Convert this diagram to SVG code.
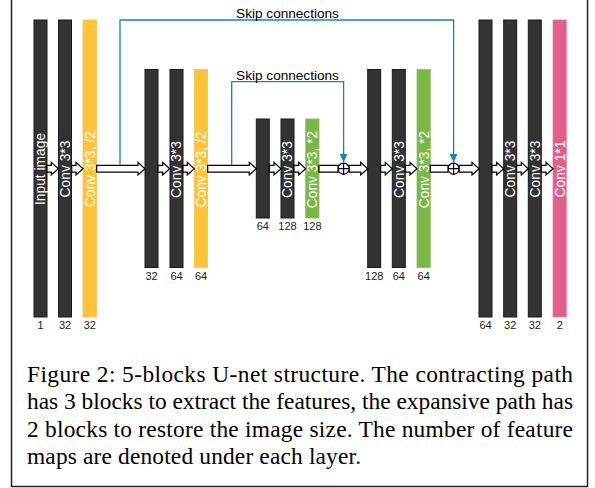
<svg xmlns="http://www.w3.org/2000/svg" width="595" height="488" viewBox="0 0 595 488">
<defs>
<style>
.dk{fill:#333333;stroke:#1a1a1a;stroke-width:1}
.yl{fill:#FDC43B;stroke:#F6C351;stroke-width:0.8}
.gr{fill:#7AB648;stroke:#8CC063;stroke-width:0.8}
.pk{fill:#E0608A;stroke:#E97FA2;stroke-width:0.8}
.bt{font-family:"Liberation Sans",Arial,sans-serif;font-size:13.8px;fill:#ffffff;text-anchor:middle}
.num{font-family:"Liberation Sans",Arial,sans-serif;font-size:11px;fill:#1a1a1a;text-anchor:middle}
.skt{font-family:"Liberation Sans",Arial,sans-serif;font-size:13.6px;fill:#000000;text-anchor:middle}
.arr{fill:#ffffff;stroke:#000000;stroke-width:1.2;stroke-linejoin:miter}
.skip{fill:none;stroke:#1B7EC2;stroke-width:1.3}
.cap{font-family:"Liberation Serif","Times New Roman",serif;font-size:23.4px;fill:#000000}
</style>
<marker id="bh" viewBox="0 0 9 8" refX="9" refY="4" markerWidth="9" markerHeight="8" markerUnits="userSpaceOnUse" orient="auto">
<path d="M0,0 L9,4 L0,8 Z" fill="#1B7EC2"/>
</marker>
</defs>
<rect x="11.5" y="-10" width="576" height="496.5" fill="none" stroke="#222222" stroke-width="1.5"/>

<!-- Level 1 left -->
<g id="input">
<rect class="dk" x="34" y="20" width="13" height="297"/>
<text class="bt" transform="translate(45.3,169) rotate(-90)">Input image</text>
<text class="num" x="40.5" y="328.5">1</text>
</g>
<g id="conv1a">
<rect class="dk" x="58.5" y="20" width="13" height="297"/>
<text class="bt" transform="translate(69.9,169) rotate(-90)">Conv 3*3</text>
<text class="num" x="65" y="328.5">32</text>
</g>
<g id="down1">
<rect class="yl" x="83" y="20" width="13.5" height="297"/>
<text class="bt" transform="translate(94.6,169) rotate(-90)">Conv 3*3, /2</text>
<text class="num" x="89.8" y="328.5">32</text>
</g>

<!-- Level 2 left -->
<g id="l2a">
<rect class="dk" x="145" y="69.5" width="13" height="198"/>
<text class="num" x="151.5" y="279.5">32</text>
</g>
<g id="l2b">
<rect class="dk" x="170" y="69.5" width="13" height="198"/>
<text class="bt" transform="translate(181.3,169.5) rotate(-90)">Conv 3*3</text>
<text class="num" x="176.5" y="279.5">64</text>
</g>
<g id="down2">
<rect class="yl" x="194.3" y="69.5" width="13.3" height="198"/>
<text class="bt" transform="translate(205.8,169.5) rotate(-90)">Conv 3*3, /2</text>
<text class="num" x="201" y="279.5">64</text>
</g>

<!-- Level 3 -->
<g id="l3a">
<rect class="dk" x="256.3" y="119" width="13" height="99"/>
<text class="num" x="262.8" y="230">64</text>
</g>
<g id="l3b">
<rect class="dk" x="281" y="119" width="13" height="99"/>
<text class="bt" transform="translate(292.3,169.5) rotate(-90)">Conv 3*3</text>
<text class="num" x="287.5" y="230">128</text>
</g>
<g id="up1">
<rect class="gr" x="305.7" y="119" width="13.3" height="99"/>
<text class="bt" transform="translate(317.2,169.5) rotate(-90)">Conv 3*3, *2</text>
<text class="num" x="312.4" y="230">128</text>
</g>

<!-- Level 2 right -->
<g id="r2a">
<rect class="dk" x="367.7" y="69.5" width="13" height="198"/>
<text class="num" x="374.2" y="279.5">128</text>
</g>
<g id="r2b">
<rect class="dk" x="392.3" y="69.5" width="13" height="198"/>
<text class="bt" transform="translate(403.6,169.5) rotate(-90)">Conv 3*3</text>
<text class="num" x="398.8" y="279.5">64</text>
</g>
<g id="up2">
<rect class="gr" x="417" y="69.5" width="13.3" height="198"/>
<text class="bt" transform="translate(428.5,169.5) rotate(-90)">Conv 3*3, *2</text>
<text class="num" x="423.7" y="279.5">64</text>
</g>

<!-- Level 1 right -->
<g id="r1a">
<rect class="dk" x="479" y="20" width="13" height="297"/>
<text class="num" x="485.5" y="328.5">64</text>
</g>
<g id="r1b">
<rect class="dk" x="503.7" y="20" width="13" height="297"/>
<text class="bt" transform="translate(515,169) rotate(-90)">Conv 3*3</text>
<text class="num" x="510.2" y="328.5">32</text>
</g>
<g id="r1c">
<rect class="dk" x="528.3" y="20" width="13" height="297"/>
<text class="bt" transform="translate(539.6,169) rotate(-90)">Conv 3*3</text>
<text class="num" x="534.8" y="328.5">32</text>
</g>
<g id="out">
<rect class="pk" x="553" y="20" width="13.3" height="297"/>
<text class="bt" transform="translate(564.5,169) rotate(-90)">Conv 1*1</text>
<text class="num" x="559.7" y="328.5">2</text>
</g>

<!-- Add nodes -->
<g id="add1">
<circle cx="343.6" cy="168.7" r="5.6" fill="#ffffff" stroke="#000000" stroke-width="1.2"/>
<path d="M338,168.7 H349.2 M343.6,163.1 V174.3" stroke="#000000" stroke-width="1.2"/>
</g>
<g id="add2">
<circle cx="453.6" cy="168.7" r="5.6" fill="#ffffff" stroke="#000000" stroke-width="1.2"/>
<path d="M448,168.7 H459.2 M453.6,163.1 V174.3" stroke="#000000" stroke-width="1.2"/>
</g>

<g id="connectors">
<path class="arr" d="M47,165.3 H51.3 V162.4 L58.3,168.7 L51.3,175 V172.1 H47 Z"/>
<path class="arr" d="M71.7,165.3 H76 V162.4 L83,168.7 L76,175 V172.1 H71.7 Z"/>
<path class="arr" d="M96.7,165.3 H138 V162.4 L145,168.7 L138,175 V172.1 H96.7 Z"/>
<path class="arr" d="M158,165.3 H162.7 V162.4 L169.7,168.7 L162.7,175 V172.1 H158 Z"/>
<path class="arr" d="M183,165.3 H187.3 V162.4 L194.3,168.7 L187.3,175 V172.1 H183 Z"/>
<path class="arr" d="M207.7,165.3 H249.3 V162.4 L256.3,168.7 L249.3,175 V172.1 H207.7 Z"/>
<path class="arr" d="M269.3,165.3 H274 V162.4 L281,168.7 L274,175 V172.1 H269.3 Z"/>
<path class="arr" d="M294,165.3 H298.7 V162.4 L305.7,168.7 L298.7,175 V172.1 H294 Z"/>
<path class="arr" d="M319,165.3 H338 V172.1 H319 Z"/>
<path class="arr" d="M349.2,165.3 H360.7 V162.4 L367.7,168.7 L360.7,175 V172.1 H349.2 Z"/>
<path class="arr" d="M380.7,165.3 H385.3 V162.4 L392.3,168.7 L385.3,175 V172.1 H380.7 Z"/>
<path class="arr" d="M405.3,165.3 H410 V162.4 L417,168.7 L410,175 V172.1 H405.3 Z"/>
<path class="arr" d="M430.3,165.3 H448 V172.1 H430.3 Z"/>
<path class="arr" d="M459.2,165.3 H472 V162.4 L479,168.7 L472,175 V172.1 H459.2 Z"/>
<path class="arr" d="M492,165.3 H496.7 V162.4 L503.7,168.7 L496.7,175 V172.1 H492 Z"/>
<path class="arr" d="M516.7,165.3 H521.3 V162.4 L528.3,168.7 L521.3,175 V172.1 H516.7 Z"/>
<path class="arr" d="M541.3,165.3 H546 V162.4 L553,168.7 L546,175 V172.1 H541.3 Z"/>
<path class="skip" d="M120,165.3 V20 H453.6 V162.6" marker-end="url(#bh)"/>
<path class="skip" d="M231.7,165.3 V81.7 H343.6 V162.6" marker-end="url(#bh)"/>
<text class="skt" x="287.5" y="18">Skip connections</text>
<text class="skt" x="287.5" y="79.5">Skip connections</text>
</g>

<g id="caption">
<text class="cap" x="27" y="381.7" textLength="546" lengthAdjust="spacing">Figure 2: 5-blocks U-net structure. The contracting path</text>
<text class="cap" x="27" y="409.2" textLength="546" lengthAdjust="spacing">has 3 blocks to extract the features, the expansive path has</text>
<text class="cap" x="27" y="436.6" textLength="546" lengthAdjust="spacing">2 blocks to restore the image size. The number of feature</text>
<text class="cap" x="27" y="463.5" textLength="334" lengthAdjust="spacing">maps are denoted under each layer.</text>
</g>
</svg>
